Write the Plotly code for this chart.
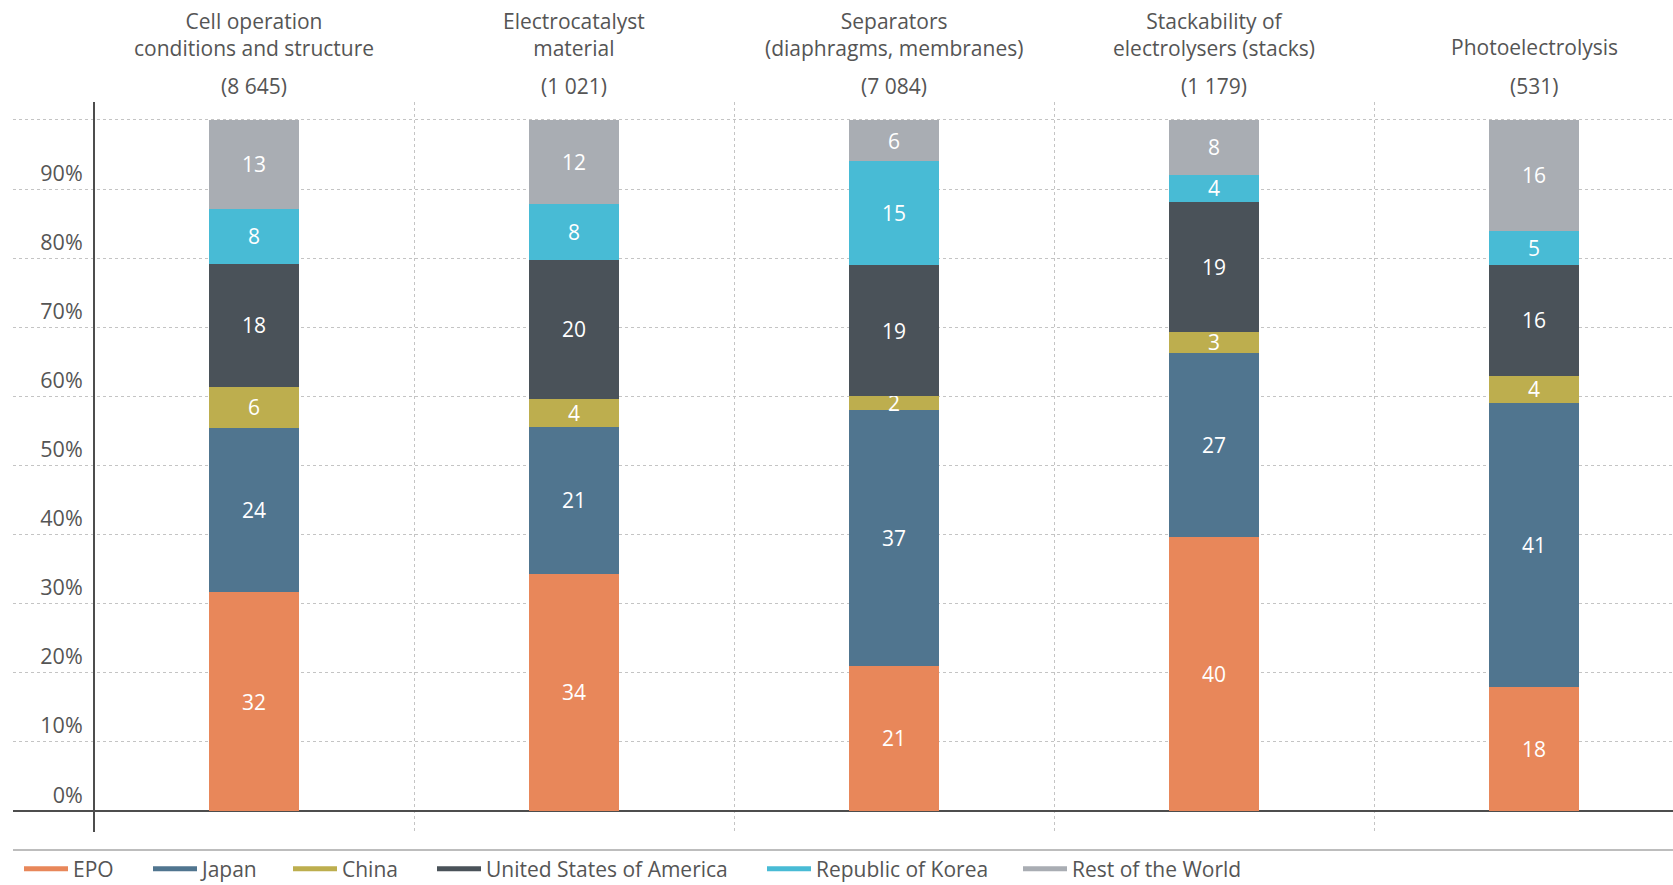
import plotly.graph_objects as go

# Technology fields and their total patent family counts
categories = [
    "Cell operation<br>conditions and structure",
    "Electrocatalyst<br>material",
    "Separators<br>(diaphragms, membranes)",
    "Stackability of<br>electrolysers (stacks)",
    "Photoelectrolysis",
]
totals = ["(8 645)", "(1 021)", "(7 084)", "(1 179)", "(531)"]

# Share (%) of each filing office per field
series_names = ["EPO", "Japan", "China", "United States of America",
                "Republic of Korea", "Rest of the World"]
epo = [32, 34, 21, 40, 18]
japan = [24, 21, 37, 27, 41]
china = [6, 4, 2, 3, 4]
usa = [18, 20, 19, 19, 16]
korea = [8, 8, 15, 4, 5]
rest = [13, 12, 6, 8, 16]
series_values = [epo, japan, china, usa, korea, rest]

colors = ["#E8875A", "#50758F", "#BDAE4E", "#4A5259", "#48BBD5", "#A9ADB3"]

tick_values = [0, 10, 20, 30, 40, 50, 60, 70, 80, 90, 100]
tick_labels = [f"{v}%" if v < 100 else "" for v in tick_values]

# left edge (px) of each legend swatch along the bottom row
legend_x_px = [27, 156, 296, 440, 770, 1026]

FONT = "Open Sans"
TEXT = "#555555"
W, H = 1673, 885
x_pos = list(range(len(categories)))

fig = go.Figure()
legend_layouts = {}
for k, (name, vals, col) in enumerate(zip(series_names, series_values, colors)):
    fig.add_trace(go.Bar(
        x=x_pos, y=vals, name=name, width=0.28,
        marker=dict(color=col, line=dict(width=0)),
        text=[str(v) for v in vals], texttemplate="%{text}",
        textposition="inside", insidetextanchor="middle", textangle=0,
        textfont=dict(family=FONT, size=21, color="white"),
        showlegend=False, hoverinfo="skip",
    ))
    legend_id = "legend" if k == 0 else f"legend{k + 1}"
    # legend entry drawn as a short thick line
    fig.add_trace(go.Scatter(
        x=[None], y=[None], mode="lines", name=name, legend=legend_id,
        line=dict(color=col, width=5), hoverinfo="skip",
    ))
    legend_layouts[legend_id] = dict(
        orientation="h", xref="container", yref="container",
        x=(legend_x_px[k] - 8) / W, xanchor="left",
        y=1 - 869 / H, yanchor="middle",
        font=dict(family=FONT, size=21, color=TEXT),
        itemwidth=44, bgcolor="rgba(0,0,0,0)",
    )

annotations = []
for i, (cat, tot) in enumerate(zip(categories, totals)):
    two_lines = "<br>" in cat
    annotations.append(dict(
        x=i, y=1, xref="x", yref="paper", text=cat, showarrow=False,
        xanchor="center", yanchor="middle", yshift=68 if two_lines else 55,
        font=dict(family=FONT, size=21, color=TEXT), align="center",
    ))
    annotations.append(dict(
        x=i, y=1, xref="x", yref="paper", text=tot, showarrow=False,
        xanchor="center", yanchor="middle", yshift=16,
        font=dict(family=FONT, size=21, color=TEXT),
    ))

fig.update_layout(
    width=W, height=H,
    margin=dict(l=13, r=0, t=102, b=53),
    paper_bgcolor="white", plot_bgcolor="white",
    barmode="stack", barnorm="percent",
    uniformtext=dict(minsize=21, mode="show"),
    font=dict(family=FONT, color=TEXT),
    xaxis=dict(
        type="linear", range=[-0.753, 4.434],
        tickvals=[0.5, 1.5, 2.5, 3.5], showticklabels=False, ticks="",
        showgrid=True, griddash="dot", gridcolor="#c4c4c4", gridwidth=1,
        zeroline=False, showline=False, fixedrange=True,
    ),
    yaxis=dict(
        range=[-3.04, 102.6], anchor="free", position=0.0488,
        tickvals=tick_values, ticktext=tick_labels, ticks="",
        ticklabelshift=-16, ticklabelstandoff=6,
        tickfont=dict(family=FONT, size=21.5, color=TEXT),
        showgrid=True, griddash="dot", gridcolor="#c4c4c4", gridwidth=1,
        zeroline=True, zerolinecolor="#4d4d4d", zerolinewidth=2,
        showline=True, linecolor="#4d4d4d", linewidth=2, fixedrange=True,
    ),
    annotations=annotations,
    shapes=[dict(
        type="line", xref="paper", yref="paper", x0=0, x1=1,
        y0=-0.0247, y1=-0.0247, line=dict(color="#bdbdbd", width=2),
    )],
    **legend_layouts,
)

fig.write_html("out.html")
